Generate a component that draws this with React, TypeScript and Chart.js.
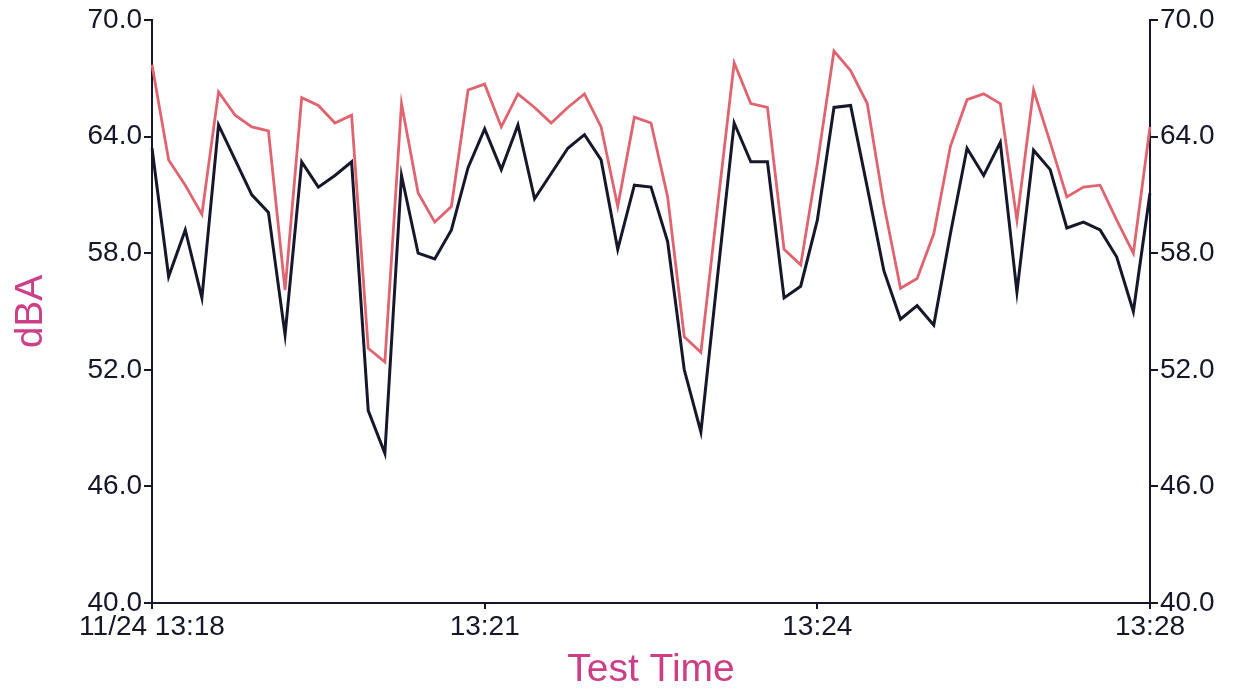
import React, { useEffect, useRef } from 'react';
import { Chart, registerables } from 'chart.js';

Chart.register(...registerables);

// 10-second samples from 11/24 13:18:00 to 13:28:00
const startSeconds = 13 * 3600 + 18 * 60;
const sampleStepSeconds = 10;
const sampleCount = 61;
const categories: string[] = [];
for (let i = 0; i < sampleCount; i++) {
  const t = startSeconds + i * sampleStepSeconds;
  const hh = String(Math.floor(t / 3600)).padStart(2, '0');
  const mm = String(Math.floor((t % 3600) / 60)).padStart(2, '0');
  const ss = String(t % 60).padStart(2, '0');
  categories.push(`${hh}:${mm}:${ss}`);
}

const xTickIndices = [0, 20, 40, 60];
const xTickLabels = ['11/24 13:18', '13:21', '13:24', '13:28'];

const yMin = 40;
const yMax = 70;
const yStep = 6;

// upper (red) trace
const upperSeries = [
  67.7, 62.8, 61.5, 60.0, 66.3, 65.1, 64.5, 64.3, 56.1, 66.0,
  65.6, 64.7, 65.1, 53.1, 52.4, 65.7, 61.1, 59.6, 60.4, 66.4,
  66.7, 64.5, 66.2, 65.5, 64.7, 65.5, 66.2, 64.5, 60.4, 65.0,
  64.7, 60.9, 53.7, 52.9, 60.4, 67.8, 65.7, 65.5, 58.2, 57.4,
  62.6, 68.4, 67.4, 65.7, 60.5, 56.2, 56.7, 59.0, 63.5, 65.9,
  66.2, 65.7, 59.7, 66.4, 63.7, 60.9, 61.4, 61.5, 59.7, 58.0,
  64.5,
];

// lower (black) trace
const lowerSeries = [
  63.4, 56.8, 59.2, 55.7, 64.6, 62.8, 61.0, 60.1, 53.8, 62.7,
  61.4, 62.0, 62.7, 49.9, 47.7, 62.0, 58.0, 57.7, 59.2, 62.4,
  64.4, 62.3, 64.6, 60.8, 62.1, 63.4, 64.1, 62.8, 58.2, 61.5,
  61.4, 58.6, 52.0, 48.8, 56.8, 64.7, 62.7, 62.7, 55.7, 56.3,
  59.7, 65.5, 65.6, 61.4, 57.1, 54.6, 55.3, 54.3, 59.0, 63.4,
  62.0, 63.7, 56.0, 63.3, 62.3, 59.3, 59.6, 59.2, 57.8, 55.0,
  61.1,
];

const FONT = "'Liberation Sans', Arial, Helvetica, sans-serif";
const AXIS_COLOR = '#16162a';
const TITLE_COLOR = '#cc3f86';
const RED = '#e0646f';
const BLACK = '#17172b';

export default function App() {
  const canvasRef = useRef<HTMLCanvasElement | null>(null);

  useEffect(() => {
    if (!canvasRef.current) return;
    const tickFont = { family: FONT, size: 28 };
    const titleFont = { family: FONT, size: 39 };

    const yAxisCommon = (position: 'left' | 'right', width: number) => ({
      type: 'linear' as const,
      position,
      min: yMin,
      max: yMax,
      grid: {
        drawOnChartArea: false,
        drawTicks: true,
        tickLength: 8,
        color: AXIS_COLOR,
        lineWidth: 2,
      },
      border: { display: true, color: AXIS_COLOR, width: 2 },
      ticks: {
        stepSize: yStep,
        padding: 2,
        color: AXIS_COLOR,
        font: tickFont,
        callback: (v: any) => Number(v).toFixed(1),
      },
      afterFit: (s: any) => {
        s.width = width;
        s.paddingTop = 0;
        s.paddingBottom = 0;
      },
    });

    const chart = new Chart(canvasRef.current, {
      type: 'line',
      data: {
        labels: categories,
        datasets: [
          {
            label: 'Upper',
            data: upperSeries,
            borderColor: RED,
            borderWidth: 2.8,
            pointRadius: 0,
            tension: 0,
            yAxisID: 'y',
          },
          {
            label: 'Lower',
            data: lowerSeries,
            borderColor: BLACK,
            borderWidth: 3,
            pointRadius: 0,
            tension: 0,
            yAxisID: 'y',
          },
        ],
      },
      options: {
        responsive: false,
        animation: false,
        devicePixelRatio: 1,
        layout: { padding: { top: 12, left: 0, right: 0, bottom: 0 } },
        plugins: {
          legend: { display: false },
          tooltip: { enabled: false },
          title: { display: false },
        },
        scales: {
          x: {
            type: 'category',
            offset: false,
            grid: {
              drawOnChartArea: false,
              drawTicks: true,
              tickLength: 6,
              color: AXIS_COLOR,
              lineWidth: 2,
            },
            border: { display: true, color: AXIS_COLOR, width: 2 },
            ticks: {
              autoSkip: false,
              maxRotation: 0,
              minRotation: 0,
              padding: 1,
              color: AXIS_COLOR,
              font: tickFont,
              callback: (value: any) => {
                const k = xTickIndices.indexOf(Number(value));
                return k >= 0 ? xTickLabels[k] : '';
              },
            },
            afterBuildTicks: (s: any) => {
              s.ticks = s.ticks.filter((t: any) => xTickIndices.includes(t.value));
            },
            title: {
              display: true,
              text: 'Test Time',
              color: TITLE_COLOR,
              font: { ...titleFont, lineHeight: 1.1 },
              padding: { top: 0, bottom: 0 },
            },
            afterFit: (s: any) => {
              s.height = 89;
              s.paddingLeft = 0;
              s.paddingRight = 0;
            },
          },
          y: {
            ...yAxisCommon('left', 144),
            title: {
              display: true,
              text: 'dBA',
              color: TITLE_COLOR,
              font: { ...titleFont, lineHeight: 1.1 },
              padding: { top: 2, bottom: 0 },
            },
          },
          y2: {
            ...yAxisCommon('right', 78),
          },
        },
      } as any,
    });

    return () => chart.destroy();
  }, []);

  return (
    <div style={{ width: 1220, height: 684, background: '#fff' }}>
      <canvas ref={canvasRef} width={1220} height={684} />
    </div>
  );
}
